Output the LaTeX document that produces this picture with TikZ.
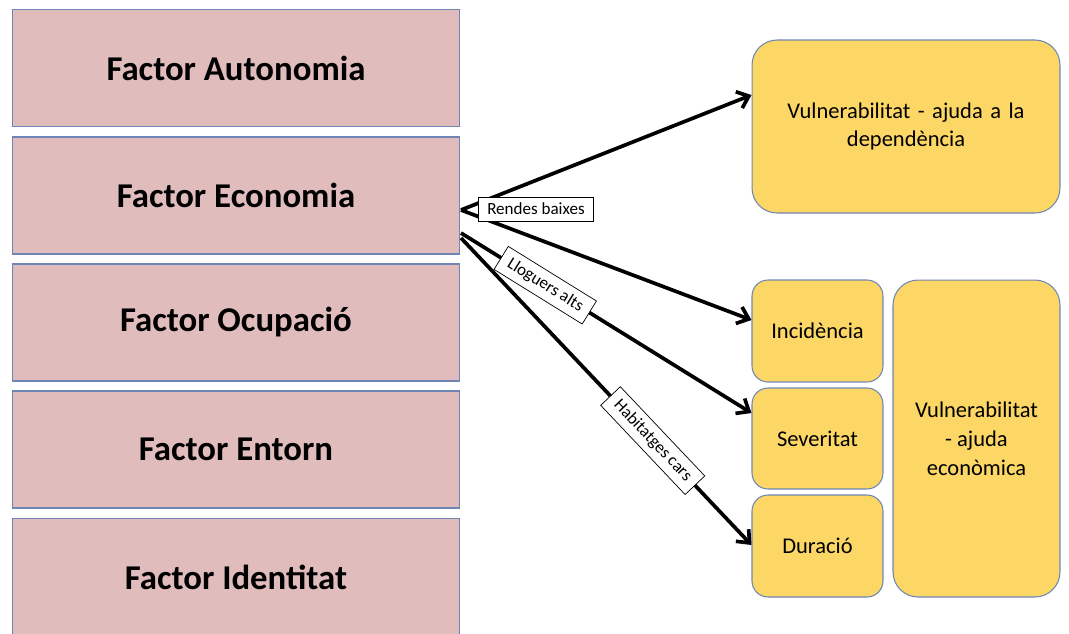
\documentclass[tikz,border=0pt]{standalone}
\usepackage{fontspec}
\setmainfont{Carlito}
\usetikzlibrary{arrows.meta}
\definecolor{pinkf}{HTML}{E0BCBD}
\definecolor{boxline}{HTML}{6F86B4}
\definecolor{goldf}{HTML}{FDD766}
\tikzset{
  factor/.style={draw=boxline, line width=0.6pt, fill=pinkf, minimum width=8.96cm, minimum height=2.34cm, inner sep=0pt, font=\fontsize{19.8}{22}\selectfont\bfseries},
  gold/.style={draw=boxline, line width=0.6pt, fill=goldf, inner sep=0pt, align=center, font=\fontsize{12.8}{16.5}\selectfont},
  arr/.style={line width=2.1pt, -{Straight Barb[length=6pt,width=10pt,line width=2.1pt]}},
  lbl/.style={draw=black, line width=0.4pt, fill=white, inner xsep=5pt, inner ysep=3.5pt, font=\fontsize{9.7}{11}\selectfont},
}
\begin{document}
\begin{tikzpicture}[x=0.02cm, y=-0.02cm]
\useasboundingbox (0,0) rectangle (1069,633);
\begin{scope}
\clip (0,0) rectangle (1069,633);
\node[factor] (aut) at (236,68) {Factor Autonomia};
\node[factor] (eco) at (236,195.5) {Factor Economia};
\node[factor] (ocu) at (236,322.5) {Factor Ocupació};
\node[factor] (ent) at (236,449.5) {Factor Entorn};
\node[factor] (ide) at (236,577) {Factor Identitat};
\end{scope}

\node[gold, rounded corners=0.5cm, minimum width=6.16cm, minimum height=3.46cm, text width=5.4cm] (dep) at (906,126.5) {Vulnerabilitat - ajuda a la\\dependència};
\node[gold, rounded corners=0.32cm, minimum width=2.62cm, minimum height=2.04cm] (inc) at (817.5,331) {Incidència};
\node[gold, rounded corners=0.32cm, minimum width=2.62cm, minimum height=2.02cm] (sev) at (817.5,438.5) {Severitat};
\node[gold, rounded corners=0.32cm, minimum width=2.62cm, minimum height=2.04cm] (dur) at (817.5,546) {Duració};
\node[gold, rounded corners=0.5cm, minimum width=3.34cm, minimum height=6.34cm] (eca) at (976.5,438.5) {Vulnerabilitat\\- ajuda\\econòmica};

\coordinate (s1) at (461,210);
\coordinate (s2) at (461,233);
\coordinate (s3) at (461,238);
\coordinate (e1) at (dep.west |- 0,95);
\coordinate (e2) at (inc.west |- 0,320);
\coordinate (e3) at (sev.west |- 0,413);
\coordinate (e4) at (dur.west |- 0,545);

\draw[arr] (s1) -- (e1);
\draw[arr] (s1) -- (e2);
\draw[arr] (s2) -- node[lbl, pos=0.29, sloped] (ll) {Lloguers alts} (e3);
\draw[arr] (s3) -- node[lbl, pos=0.66, sloped] (hc) {Habitatges cars} (e4);
\node[lbl] (rb) at (536,209) {Rendes baixes};
\end{tikzpicture}
\end{document}
